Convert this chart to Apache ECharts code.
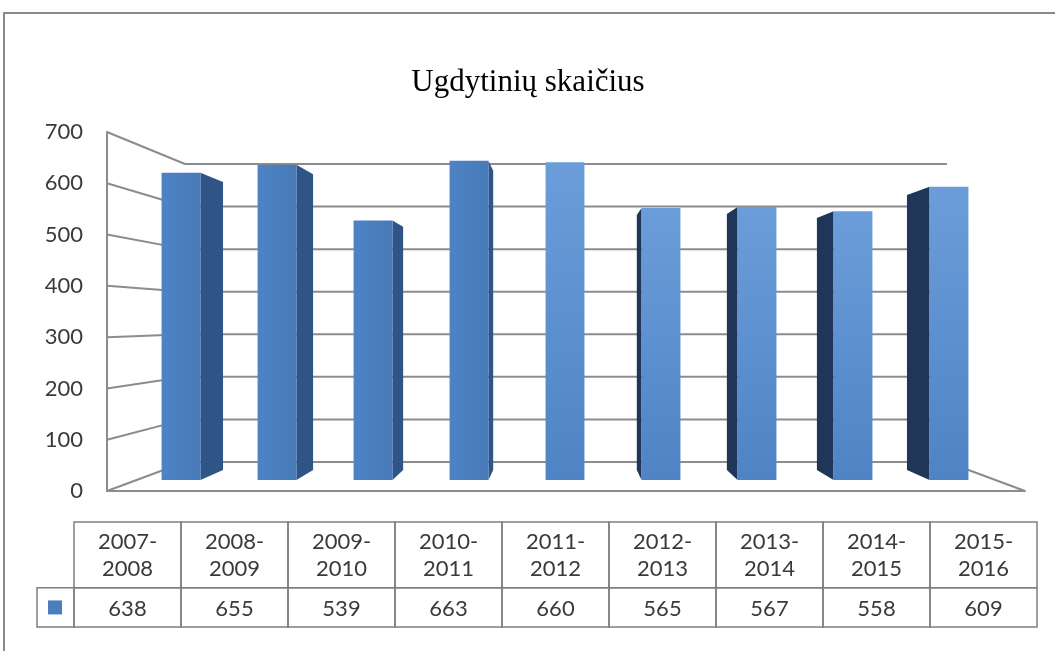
<!DOCTYPE html>
<html>
<head>
<meta charset="utf-8">
<script src="https://cdn.jsdelivr.net/npm/echarts@6/dist/echarts.min.js"></script>
<style>
  html, body { margin: 0; padding: 0; background: #fff; }
  #chart { width: 1055px; height: 651px; }
</style>
</head>
<body>
<div id="chart"></div>
<script>
// data
const periods = ["2007-2008", "2008-2009", "2009-2010", "2010-2011", "2011-2012", "2012-2013", "2013-2014", "2014-2015", "2015-2016"];
const pupils = [638, 655, 539, 663, 660, 565, 567, 558, 609];
const yTicks = [0, 100, 200, 300, 400, 500, 600, 700];

const chart = echarts.init(document.getElementById("chart"));

const GRID_LINE = "#8c8c8c";
const VP_VALUE = 333;   // height of the eye, in axis units
const BACK = 0.83;      // back wall scale toward the vanishing point
const DEPTH = 0.062;    // bar depth toward the vanishing point

const toward = (p, vp, k) => [p[0] + (vp[0] - p[0]) * k, p[1] + (vp[1] - p[1]) * k];

// walls: left wall lines, back wall lines, right floor edge
const renderWalls = (params, api) => {
  const cs = params.coordSys;
  const v = api.value(0);
  const vp = api.coord([4, VP_VALUE]);
  vp[0] = cs.x + cs.width / 2;
  const y = api.coord([0, v])[1];
  const left = [cs.x, y];
  const right = [cs.x + cs.width, y];
  const bl = toward(left, vp, 1 - BACK);
  const br = toward(right, vp, 1 - BACK);
  const style = { stroke: GRID_LINE, lineWidth: 2 };
  const children = [
    { type: "line", shape: { x1: left[0], y1: left[1], x2: bl[0], y2: bl[1] }, style },
    { type: "line", shape: { x1: bl[0], y1: bl[1], x2: br[0], y2: br[1] }, style },
  ];
  if (v === 0) {
    children.push({ type: "line", shape: { x1: right[0], y1: right[1], x2: br[0], y2: br[1] }, style });
  }
  return { type: "group", children };
};

// 3d looking bars: front face + the visible side face
const renderBar = (params, api) => {
  const i = api.value(0);
  const top = api.coord([i, api.value(1)]);
  const base = api.coord([i, 0]);
  const vp = api.coord([4, VP_VALUE]);
  const w = api.size([1, 0])[0] * 0.405;
  const xl = top[0] - w / 2;
  const xr = top[0] + w / 2;
  const children = [];
  let side = null;
  let sideColor = "#2f5587";
  if (xr < vp[0]) {
    side = [xr, top[1], xr, base[1]];
  } else if (xl > vp[0]) {
    side = [xl, top[1], xl, base[1]];
    sideColor = "#1f3659";
  }
  if (side) {
    const a = [side[0], side[1]];
    const b = [side[2], side[3]];
    children.push({
      type: "polygon",
      shape: { points: [a, b, toward(b, vp, DEPTH), toward(a, vp, DEPTH)] },
      style: { fill: sideColor },
    });
  }
  const light = top[0] >= vp[0] - 5;
  children.push({
    type: "rect",
    shape: { x: xl, y: top[1], width: w, height: base[1] - top[1] },
    style: {
      fill: light
        ? new echarts.graphic.LinearGradient(0, 0, 0, 1, [
            { offset: 0, color: "#6b9dda" },
            { offset: 1, color: "#4f83c3" },
          ])
        : new echarts.graphic.LinearGradient(0, 0, 1, 0, [
            { offset: 0, color: "#4f84c4" },
            { offset: 0.5, color: "#4a7ebf" },
            { offset: 1, color: "#4679b8" },
          ]),
    },
  });
  return { type: "group", children };
};

// data table under the chart
const HEADER_SPLIT = 0.373;
const renderCell = (params, api) => {
  const i = api.value(0);
  const c = api.coord([i, 1]);
  const mid = api.coord([i, HEADER_SPLIT]);
  const bottom = api.coord([i, 0]);
  const w = api.size([1, 0])[0];
  const x = c[0] - w / 2;
  const border = { fill: null, stroke: "#7f7f7f", lineWidth: 1.5 };
  const font = { fontFamily: "Lato, 'Open Sans', sans-serif", fontSize: 22, fill: "#3a3a3a", align: "center" };
  const [a, b] = periods[i].split("-");
  const children = [
    { type: "rect", shape: { x, y: c[1], width: w, height: mid[1] - c[1] }, style: border },
    { type: "rect", shape: { x, y: mid[1], width: w, height: bottom[1] - mid[1] }, style: border },
    {
      type: "text",
      style: Object.assign({ text: a + "-\n" + b, x: c[0], y: (c[1] + mid[1]) / 2, verticalAlign: "middle", lineHeight: 27 }, font),
    },
    {
      type: "text",
      style: Object.assign({ text: String(api.value(1)), x: c[0], y: (mid[1] + bottom[1]) / 2 + 1, verticalAlign: "middle" }, font),
    },
  ];
  if (i === 0) {
    const lw = 37;
    children.push(
      { type: "rect", shape: { x: x - lw, y: mid[1], width: lw, height: bottom[1] - mid[1] }, style: border },
      { type: "rect", shape: { x: x - lw + 11, y: (mid[1] + bottom[1]) / 2 - 7, width: 14, height: 14 }, style: { fill: "#4a7ebf" } }
    );
  }
  return { type: "group", children };
};

const options = {
  animation: false,
  backgroundColor: "#fff",
  title: {
    text: "Ugdytinių skaičius",
    left: 523,
    top: 62,
    textAlign: "center",
    textStyle: { fontFamily: "'Liberation Serif', serif", fontSize: 31, fontWeight: "normal", color: "#000" },
  },
  graphic: [
    {
      type: "rect",
      shape: { x: 4, y: 13, width: 1100, height: 700 },
      style: { fill: null, stroke: "#8a8a8a", lineWidth: 2 },
      silent: true,
    },
  ],
  grid: [
    // bar plane
    { left: 133, right: 58, top: 143, bottom: 171 },
    // front plane (axis labels and front edges)
    { left: 107, right: 30, top: 132, bottom: 160 },
    // table
    { left: 74, right: 18, top: 522, bottom: 24 },
  ],
  xAxis: [
    { gridIndex: 0, type: "category", data: periods, show: false },
    {
      gridIndex: 1,
      type: "category",
      data: periods,
      axisLine: { lineStyle: { color: GRID_LINE, width: 2 } },
      axisTick: { show: false },
      axisLabel: { show: false },
    },
    { gridIndex: 2, type: "category", data: periods, show: false },
  ],
  yAxis: [
    { gridIndex: 0, type: "value", min: 0, max: 700, interval: 100, show: false },
    {
      gridIndex: 1,
      type: "value",
      min: 0,
      max: 700,
      interval: 100,
      axisLine: { show: true, lineStyle: { color: GRID_LINE, width: 2 } },
      axisTick: { show: false },
      splitLine: { show: false },
      axisLabel: { margin: 24, fontSize: 22, color: "#3a3a3a", fontFamily: "Lato, 'Open Sans', sans-serif" },
    },
    { gridIndex: 2, type: "value", min: 0, max: 1, show: false },
  ],
  series: [
    {
      type: "custom",
      name: "walls",
      xAxisIndex: 1,
      yAxisIndex: 1,
      renderItem: renderWalls,
      data: yTicks.map((v) => [v]),
      encode: { y: 0 },
      silent: true,
      z: 1,
    },
    {
      type: "custom",
      name: "Ugdytiniai",
      xAxisIndex: 0,
      yAxisIndex: 0,
      renderItem: renderBar,
      data: pupils.map((v, i) => [i, v]),
      encode: { x: 0, y: 1 },
      z: 5,
    },
    {
      type: "custom",
      name: "table",
      xAxisIndex: 2,
      yAxisIndex: 2,
      renderItem: renderCell,
      data: pupils.map((v, i) => [i, v]),
      encode: { x: 0 },
      silent: true,
      z: 5,
    },
  ],
};

chart.setOption(options);
</script>
</body>
</html>
